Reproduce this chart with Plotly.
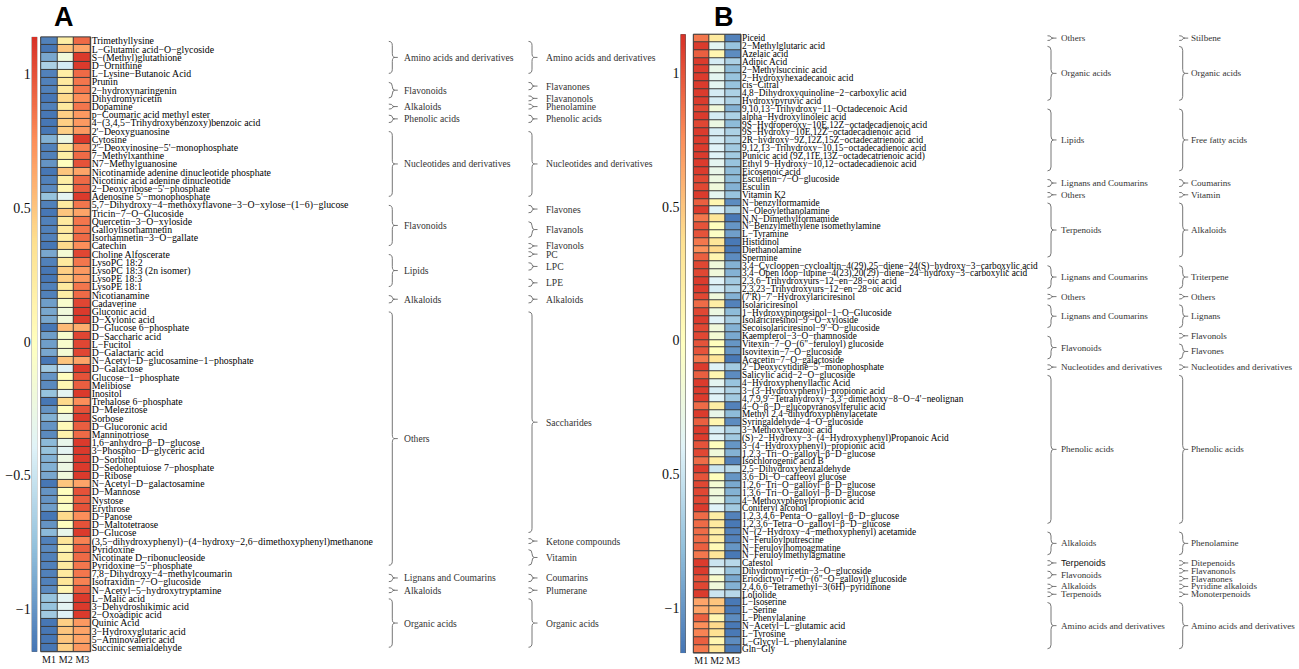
import plotly.graph_objects as go

W, H = 1299, 669
SERIF = "Liberation Serif, Times New Roman, serif"
SANS = "Liberation Sans, Arial, sans-serif"

samples = ["M1", "M2", "M3"]

# ---------------- Panel A ----------------
a_names = [
    "Trimethyllysine", "L−Glutamic acid−O−glycoside", "S−(Methyl)glutathione", "D−Ornithine",
    "L−Lysine−Butanoic Acid", "Prunin", "2−hydroxynaringenin", "Dihydromyricetin", "Dopamine",
    "p−Coumaric acid methyl ester", "4−(3,4,5−Trihydroxybenzoxy)benzoic acid", "2'−Deoxyguanosine",
    "Cytosine", "2'−Deoxyinosine−5'−monophosphate", "7−Methylxanthine", "N7−Methylguanosine",
    "Nicotinamide adenine dinucleotide phosphate", "Nicotinic acid adenine dinucleotide",
    "2−Deoxyribose−5'−phosphate", "Adenosine 5'−monophosphate",
    "5,7−Dihydroxy−4−methoxyflavone−3−O−xylose−(1−6)−glucose", "Tricin−7−O−Glucoside",
    "Quercetin−3−O−xyloside", "Galloylisorhamnetin", "Isorhamnetin−3−O−gallate", "Catechin",
    "Choline Alfoscerate", "LysoPC 18:2", "LysoPC 18:3 (2n isomer)", "LysoPE 18:3", "LysoPE 18:1",
    "Nicotianamine", "Cadaverine", "Gluconic acid", "D−Xylonic acid", "D−Glucose 6−phosphate",
    "D−Saccharic acid", "L−Fucitol", "D−Galactaric acid", "N−Acetyl−D−glucosamine−1−phosphate",
    "D−Galactose", "Glucose−1−phosphate", "Melibiose", "Inositol", "Trehalose 6−phosphate",
    "D−Melezitose", "Sorbose", "D−Glucoronic acid", "Manninotriose", "1,6−anhydro−β−D−glucose",
    "3−Phospho−D−glyceric acid", "D−Sorbitol", "D−Sedoheptuiose 7−phosphate", "D−Ribose",
    "N−Acetyl−D−galactosamine", "D−Mannose", "Nystose", "Erythrose", "D−Panose", "D−Maltotetraose",
    "D−Glucose", "(3,5−dihydroxyphenyl)−(4−hydroxy−2,6−dimethoxyphenyl)methanone", "Pyridoxine",
    "Nicotinate D−ribonucleoside", "Pyridoxine−5'−phosphate", "7,8−Dihydroxy−4−methylcoumarin",
    "Isofraxidin−7−O−glucoside", "N−Acetyl−5−hydroxytryptamine", "L−Malic acid",
    "3−Dehydroshikimic acid", "2−Oxoadipic acid", "Quinic Acid", "3−Hydroxyglutaric acid",
    "5−Aminovaleric acid", "Succinic semialdehyde",
]
a_m1 = [-1.10, -1.15, -0.90, -0.65, -1.10, -1.10, -1.10, -1.15, -1.10, -1.15,
        -1.15, -1.15, -0.85, -1.10, -1.10, -1.00, -1.15, -1.10, -1.05, -0.75,
        -1.10, -1.15, -1.10, -1.10, -1.10, -1.15, -0.90, -1.10, -1.15, -1.15,
        -1.10, -1.10, -0.95, -0.90, -0.90, -1.15, -0.95, -0.95, -0.90, -1.15,
        -0.70, -1.00, -1.05, -0.75, -1.15, -1.00, -0.85, -1.00, -1.05, -0.80,
        -0.75, -0.85, -0.85, -0.90, -1.15, -1.00, -1.00, -0.95, -1.15, -1.00,
        -0.80, -1.10, -1.05, -1.10, -1.10, -1.10, -1.10, -1.05, -0.75, -0.75,
        -0.70, -1.15, -1.15, -1.15, -1.15]
a_m2 = [0.20, 0.50, -0.20, -0.45, 0.20, 0.25, 0.25, 0.40, 0.25, 0.45,
        0.45, 0.45, -0.25, 0.30, 0.20, 0.00, 0.50, 0.20, 0.10, -0.35,
        0.25, 0.50, 0.25, 0.25, 0.20, 0.40, -0.15, 0.25, 0.45, 0.45,
        0.25, 0.20, -0.10, -0.20, -0.20, 0.55, -0.10, -0.10, -0.15, 0.50,
        -0.40, 0.00, 0.10, -0.35, 0.40, 0.00, -0.25, 0.05, 0.15, -0.30,
        -0.35, -0.25, -0.25, -0.20, 0.50, 0.00, 0.05, -0.05, 0.40, 0.00,
        -0.30, 0.30, 0.10, 0.20, 0.25, 0.25, 0.30, 0.10, -0.35, -0.35,
        -0.40, 0.45, 0.50, 0.50, 0.45]
a_m3 = [0.90, 0.65, 1.10, 1.10, 0.90, 0.85, 0.85, 0.75, 0.85, 0.70,
        0.70, 0.70, 1.10, 0.80, 0.90, 1.00, 0.65, 0.90, 0.95, 1.10,
        0.85, 0.65, 0.85, 0.85, 0.90, 0.75, 1.05, 0.85, 0.70, 0.70,
        0.85, 0.90, 1.05, 1.10, 1.10, 0.60, 1.05, 1.05, 1.05, 0.65,
        1.10, 1.00, 0.95, 1.10, 0.75, 1.00, 1.10, 0.95, 0.90, 1.10,
        1.10, 1.10, 1.10, 1.10, 0.65, 1.00, 0.95, 1.00, 0.75, 1.00,
        1.10, 0.80, 0.95, 0.90, 0.85, 0.85, 0.80, 0.95, 1.10, 1.10,
        1.10, 0.70, 0.65, 0.65, 0.70]
# (label, first row, last row) – rows counted from 1 at the top
a_class1 = [
    ("Amino acids and derivatives", 1, 5), ("Flavonoids", 6, 8), ("Alkaloids", 9, 9),
    ("Phenolic acids", 10, 11), ("Nucleotides and derivatives", 12, 20), ("Flavonoids", 21, 26),
    ("Lipids", 27, 31), ("Alkaloids", 32, 33), ("Others", 34, 65),
    ("Lignans and Coumarins", 66, 67), ("Alkaloids", 68, 68), ("Organic acids", 69, 75),
]
a_class2 = [
    ("Amino acids and derivatives", 1, 5), ("Flavanones", 6, 7), ("Flavanonols", 8, 8),
    ("Phenolamine", 9, 9), ("Phenolic acids", 10, 11), ("Nucleotides and derivatives", 12, 20),
    ("Flavones", 21, 22), ("Flavanols", 23, 25), ("Flavonols", 26, 26), ("PC", 27, 27),
    ("LPC", 28, 29), ("LPE", 30, 31), ("Alkaloids", 32, 33), ("Saccharides", 34, 61),
    ("Ketone compounds", 62, 62), ("Vitamin", 63, 65), ("Coumarins", 66, 67),
    ("Plumerane", 68, 68), ("Organic acids", 69, 75),
]
a_ticks = [-1, -0.5, 0, 0.5, 1]
a_ticktext = ["−1", "−0.5", "0", "0.5", "1"]

# ---------------- Panel B ----------------
b_names = [
    "Piceid", "2−Methylglutaric acid", "Azelaic acid", "Adipic Acid", "2−Methylsuccinic acid",
    "2−Hydroxyhexadecanoic acid", "cis−Citral", "4,8−Dihydroxyquinoline−2−carboxylic acid",
    "Hydroxypyruvic acid", "9,10,13−Trihydroxy−11−Octadecenoic Acid", "alpha−Hydroxylinoleic acid",
    "9S−Hydroperoxy−10E,12Z−octadecadienoic acid", "9S−Hydroxy−10E,12Z−octadecadienoic acid",
    "2R−hydroxy−9Z,12Z,15Z−octadecatrienoic acid", "9,12,13−Trihydroxy−10,15−octadecadienoic acid",
    "Punicic acid (9Z,11E,13Z−octadecatrienoic acid)", "Ethyl 9−Hydroxy−10,12−octadecadienoic acid",
    "Eicosenoic acid", "Esculetin−7−O−glucoside", "Esculin", "Vitamin K2", "N−benzylformamide",
    "N−Oleoylethanolamine", "N,N−Dimethylformamide", "N−Benzylmethylene isomethylamine",
    "L−Tyramine", "Histidinol", "Diethanolamine", "Spermine",
    "3,4−Cycloopen−cycloaltin−4(29),25−diene−24(S)−hydroxy−3−carboxylic acid",
    "3,4−Open loop−lupine−4(23),20(29)−diene−24−hydroxy−3−carboxylic acid",
    "2,3,6−Trihydroxyurs−12−en−28−oic acid", "2,3,23−Trihydroxyurs−12−en−28−oic acid",
    "(7'R)−7'−Hydroxylariciresinol", "Isolariciresinol", "1−Hydroxypinoresinol−1−O−Glucoside",
    "Isolariciresinol−9'−O−xyloside", "Secoisolariciresinol−9'−O−glucoside",
    "Kaempferol−3−O−rhamnoside", "Vitexin−7−O−(6\"−feruloyl) glucoside", "Isovitexin−7−O−glucoside",
    "Acacetin−7−O−galactoside", "2'−Deoxycytidine−5'−monophosphate", "Salicylic acid−2−O−glucoside",
    "4−Hydroxyphenyllactic Acid", "3−(3−Hydroxyphenyl)−propionic acid",
    "4,7,9,9'−Tetrahydroxy−3,3'−dimethoxy−8−O−4'−neolignan", "4−O−β−D−glucopyranosylferulic acid",
    "Methyl 2,4−dihydroxyphenylacetate", "Syringaldehyde−4−O−glucoside", "3−Methoxybenzoic acid",
    "(S)−2−Hydroxy−3−(4−Hydroxyphenyl)Propanoic Acid", "3−(4−Hydroxyphenyl)−propionic acid",
    "1,2,3−Tri−O−galloyl−β−D−glucose", "Isochlorogenic acid B", "2,5−Dihydroxybenzaldehyde",
    "3,6−Di−O−caffeoyl glucose", "1,2,6−Tri−O−galloyl−β−D−glucose", "1,3,6−Tri−O−galloyl−β−D−glucose",
    "4−Methoxyphenylpropionic acid", "Coniferyl alcohol", "1,2,3,4,6−Penta−O−galloyl−β−D−glucose",
    "1,2,3,6−Tetra−O−galloyl−β−D−glucose", "N−(2−Hydroxy−4−methoxyphenyl) acetamide",
    "N−Feruloylputrescine", "N−Feruloylhomoagmatine", "N−Feruloylmethylagmatine", "Cafestol",
    "Dihydromyricetin−3−O−glucoside", "Eriodictyol−7−O−(6\"−O−galloyl) glucoside",
    "2,4,6,6−Tetramethyl−3(6H)−pyridinone", "Loliolide", "L−Isoserine", "L−Serine",
    "L−Phenylalanine", "N−Acetyl−L−glutamic acid", "L−Tyrosine", "L−Glycyl−L−phenylalanine",
    "Gln−Gly",
]
b_m1 = [0.85, 1.10, 0.95, 1.10, 1.10, 1.10, 1.10, 1.10, 1.10, 1.05,
        1.10, 1.05, 1.10, 1.10, 1.10, 1.10, 1.10, 1.10, 1.05, 1.05,
        1.10, 0.95, 1.10, 0.85, 1.00, 1.00, 0.85, 0.75, 0.95, 1.05,
        1.05, 1.10, 1.10, 1.05, 0.90, 1.05, 1.10, 1.05, 1.05, 1.00,
        1.00, 0.85, 1.10, 0.95, 1.10, 1.10, 1.10, 0.90, 1.10, 0.95,
        1.10, 1.10, 1.00, 1.05, 0.90, 1.10, 1.00, 1.05, 1.05, 1.05,
        1.10, 0.90, 0.90, 0.90, 0.90, 0.95, 0.85, 1.10, 1.10, 1.00,
        1.05, 1.10, 0.65, 0.65, 0.95, 0.75, 0.80, 0.95, 0.85]
b_m2 = [0.25, -0.35, 0.10, -0.45, -0.30, -0.35, -0.35, -0.45, -0.45, -0.20,
        -0.45, -0.25, -0.45, -0.45, -0.40, -0.40, -0.35, -0.30, -0.25, -0.20,
        -0.35, 0.10, -0.40, 0.30, 0.00, -0.05, 0.30, 0.40, 0.10, -0.20,
        -0.20, -0.40, -0.45, -0.20, 0.20, -0.25, -0.40, -0.20, -0.15, 0.00,
        0.00, 0.30, -0.40, 0.10, -0.35, -0.45, -0.40, 0.20, -0.30, 0.10,
        -0.45, -0.40, 0.00, -0.20, 0.20, -0.50, 0.00, -0.15, -0.20, -0.25,
        -0.40, 0.20, 0.25, 0.20, 0.20, 0.05, 0.30, -0.50, -0.35, -0.10,
        -0.20, -0.50, 0.50, 0.50, 0.10, 0.40, 0.35, 0.10, 0.30]
b_m3 = [-1.10, -0.75, -1.05, -0.65, -0.80, -0.75, -0.75, -0.65, -0.65, -0.85,
        -0.65, -0.80, -0.65, -0.65, -0.70, -0.70, -0.75, -0.80, -0.80, -0.85,
        -0.75, -1.05, -0.70, -1.15, -1.00, -0.95, -1.15, -1.15, -1.05, -0.85,
        -0.85, -0.70, -0.65, -0.85, -1.10, -0.80, -0.70, -0.85, -0.90, -1.00,
        -1.00, -1.15, -0.70, -1.05, -0.75, -0.65, -0.70, -1.10, -0.80, -1.05,
        -0.65, -0.70, -1.00, -0.85, -1.10, -0.60, -1.00, -0.90, -0.85, -0.80,
        -0.70, -1.10, -1.15, -1.10, -1.10, -1.00, -1.15, -0.60, -0.75, -0.90,
        -0.85, -0.60, -1.15, -1.15, -1.05, -1.15, -1.15, -1.05, -1.15]
b_class1 = [
    ("Others", 1, 1), ("Organic acids", 2, 9), ("Lipids", 10, 18),
    ("Lignans and Coumarins", 19, 20), ("Others", 21, 21), ("Terpenoids", 22, 29),
    ("Lignans and Coumarins", 30, 33), ("Others", 34, 34), ("Lignans and Coumarins", 35, 38),
    ("Flavonoids", 39, 42), ("Nucleotides and derivatives", 43, 43), ("Phenolic acids", 44, 63),
    ("Alkaloids", 64, 67), ("Terpenoids", 68, 68), ("Flavonoids", 69, 70), ("Alkaloids", 71, 71),
    ("Terpenoids", 72, 72), ("Amino acids and derivatives", 73, 79),
]
b_class2 = [
    ("Stilbene", 1, 1), ("Organic acids", 2, 9), ("Free fatty acids", 10, 18),
    ("Coumarins", 19, 20), ("Vitamin", 21, 21), ("Alkaloids", 22, 29), ("Triterpene", 30, 33),
    ("Others", 34, 34), ("Lignans", 35, 38), ("Flavonols", 39, 39), ("Flavones", 40, 42),
    ("Nucleotides and derivatives", 43, 43), ("Phenolic acids", 44, 63), ("Phenolamine", 64, 67),
    ("Ditepenoids", 68, 68), ("Flavanonols", 69, 69), ("Flavanones", 70, 70),
    ("Pyridine alkaloids", 71, 71), ("Monoterpenoids", 72, 72),
    ("Amino acids and derivatives", 73, 79),
]
b_ticks = [-1, -0.5, 0, 0.5, 1]
b_ticktext = ["−1", "0.5", "0", "0.5", "1"]   # minus of -0.5 is clipped in the source figure

# ---------------- styling ----------------
palette = ["#4575B4", "#91BFDB", "#E0F3F8", "#FFFFBF", "#FEE090", "#FC8D59", "#D73027"]
cscale = [[i / (len(palette) - 1), c] for i, c in enumerate(palette)]
GRID = "#3c3c3c"


def fx(px):
    return px / W


def fy(px):
    return 1 - px / H


fig = go.Figure()
layout = dict(
    width=W, height=H, margin=dict(l=0, r=0, t=0, b=0), autosize=False,
    paper_bgcolor="white", plot_bgcolor=GRID, showlegend=False,
)
shapes, annotations = [], []


def add_panel(k, names, m1, m2, m3, hm_x, hm_y, cb_x, zlo, zhi, ticks, ticktext,
              row_font, cls1, cls2, geo1, geo2, cls_font, letter, letter_xy, sans_idx=()):
    n = len(names)
    hx, hy = f"x{2*k-1 if k > 1 else ''}", f"y{2*k-1 if k > 1 else ''}"
    cx, cy = f"x{2*k}", f"y{2*k}"
    hxa, hya = "xaxis" + hx[1:], "yaxis" + hy[1:]
    cxa, cya = "xaxis" + cx[1:], "yaxis" + cy[1:]
    z = [[a, b, c] for a, b, c in zip(m1, m2, m3)]
    fig.add_trace(go.Heatmap(z=z, x=[0, 1, 2], y=list(range(n)), colorscale=cscale,
                             zmin=zlo, zmax=zhi, showscale=False, xgap=1, ygap=1,
                             xaxis=hx, yaxis=hy, hoverinfo="skip"))
    # colour key drawn as a thin heatmap on its own axis
    steps = 300
    st = (zhi - zlo) / steps
    lv = [zlo + st * (i + 0.5) for i in range(steps)]
    fig.add_trace(go.Heatmap(z=[[v] for v in lv], x=[0], y=lv, colorscale=cscale,
                             zmin=zlo, zmax=zhi, showscale=False, xaxis=cx, yaxis=cy,
                             hoverinfo="skip"))
    ydom = [fy(hm_y[1]), fy(hm_y[0])]
    layout[hxa] = dict(domain=[fx(hm_x[0]), fx(hm_x[1])], anchor=hy, range=[-0.5, 2.5],
                       tickvals=[0, 1, 2], ticktext=samples, ticks="", showgrid=False,
                       zeroline=False, showline=False, fixedrange=True, tickangle=0,
                       tickfont=dict(family=SERIF, size=10, color="#111"))
    layout[hya] = dict(domain=ydom, anchor=hx, range=[n - 0.5, -0.5], side="right",
                       tickvals=list(range(n)), ticktext=names, ticks="", showgrid=False,
                       zeroline=False, showline=False, fixedrange=True, ticklabelstandoff=0,
                       tickfont=dict(family=SERIF, size=row_font, color="#000"))
    layout[cxa] = dict(domain=[fx(cb_x[0]), fx(cb_x[1])], anchor=cy, range=[-0.5, 0.5],
                       visible=False, fixedrange=True)
    layout[cya] = dict(domain=ydom, anchor=cx, range=[zlo, zhi], side="left",
                       tickvals=ticks, ticktext=ticktext, ticks="", showgrid=False,
                       zeroline=False, showline=False, fixedrange=True, ticklabelstandoff=0,
                       tickfont=dict(family=SERIF, size=14, color="#111"))
    # outer border around the heat map
    shapes.append(dict(type="rect", xref=f"{hx} domain", yref=f"{hy} domain",
                       x0=0, x1=1, y0=0, y1=1, line=dict(color=GRID, width=1)))

    # class braces
    def brace(xl, y0, y1):
        span = y1 - y0
        r = min(0.5, span / 4)
        ym = (y0 + y1) / 2
        hook, tip, dash = 3.5, 2.5, 3.0
        X = fx
        p = (f"M {X(xl-hook)},{y0} Q {X(xl)},{y0} {X(xl)},{y0+r} "
             f"L {X(xl)},{ym-r} Q {X(xl)},{ym} {X(xl+tip)},{ym} "
             f"Q {X(xl)},{ym} {X(xl)},{ym+r} L {X(xl)},{y1-r} "
             f"Q {X(xl)},{y1} {X(xl-hook)},{y1} "
             f"M {X(xl+tip)},{ym} L {X(xl+tip+dash)},{ym}")
        shapes.append(dict(type="path", path=p, xref="paper", yref=hy,
                           line=dict(color="#666", width=0.9)))

    for level, (cls, (xl, xt)) in enumerate(((cls1, geo1), (cls2, geo2))):
        for j, (lab, s, e) in enumerate(cls):
            if s == e:
                y0, y1 = s - 1 - 0.3, s - 1 + 0.3
            else:
                y0, y1 = s - 1 + 0.05, e - 1 - 0.05
            brace(xl, y0, y1)
            sans = level == 0 and j in sans_idx
            annotations.append(dict(
                x=fx(xt), y=(s - 1 + e - 1) / 2, xref="paper", yref=hy, text=lab,
                showarrow=False, xanchor="left", yanchor="middle",
                font=dict(family=SANS if sans else SERIF, size=cls_font,
                          color="#111" if sans else "#333")))
    annotations.append(dict(x=fx(letter_xy[0]), y=fy(letter_xy[1]), xref="paper", yref="paper",
                            text=f"<b>{letter}</b>", showarrow=False, xanchor="center",
                            yanchor="middle", font=dict(family=SANS, size=27, color="#000")))


add_panel(1, a_names, a_m1, a_m2, a_m3, hm_x=(40.7, 90.7), hm_y=(36.0, 652.7),
          cb_x=(31.7, 37.2), zlo=-1.16, zhi=1.14, ticks=a_ticks, ticktext=a_ticktext,
          row_font=9.8, cls1=a_class1, cls2=a_class2, geo1=(392.3, 401.5),
          geo2=(532.0, 544.0), cls_font=9.6, letter="A", letter_xy=(63.5, 16))
add_panel(2, b_names, b_m1, b_m2, b_m3, hm_x=(693.3, 741.0), hm_y=(33.3, 654.0),
          cb_x=(680.5, 685.8), zlo=-1.17, zhi=1.145, ticks=b_ticks, ticktext=b_ticktext,
          row_font=9.3, cls1=b_class1, cls2=b_class2, geo1=(1051.0, 1059.3),
          geo2=(1182.7, 1188.7), cls_font=9.1, letter="B", letter_xy=(724, 16),
          sans_idx=(13,))

layout["shapes"] = shapes
layout["annotations"] = annotations
fig.update_layout(**layout)
fig.write_html(
    "out.html",
    config={"displayModeBar": False, "staticPlot": True},
    post_script="document.body.style.margin='0';document.body.style.overflow='hidden';",
)
